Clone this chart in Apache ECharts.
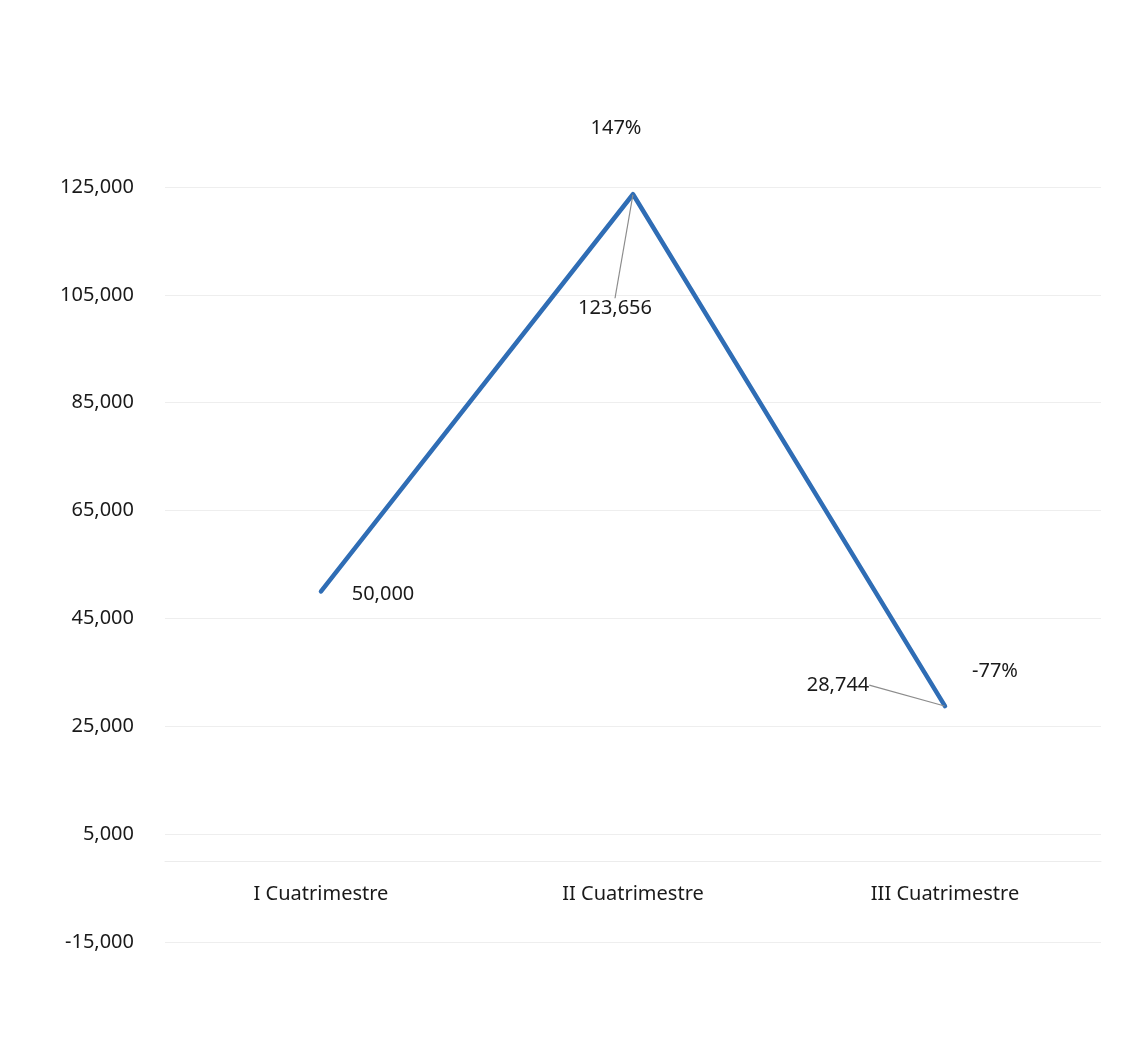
<!DOCTYPE html>
<html>
<head>
<meta charset="utf-8">
<script src="https://cdn.jsdelivr.net/npm/echarts@6/dist/echarts.min.js"></script>
<style>
html,body{margin:0;padding:0;background:#fff;}
#chart{width:1125px;height:1040px;}
</style>
</head>
<body>
<div id="chart"></div>
<script>
var categories = ['I Cuatrimestre', 'II Cuatrimestre', 'III Cuatrimestre'];
var values = [50000, 123656, 28744];
var percentLabels = ['', '147%', '-77%'];
var yMin = -15000, yMax = 125000, yStep = 20000;

var fontFam = '"Noto Sans", "Open Sans", sans-serif';
var textColor = '#1a1a1a';
var fs = 20;

// label offsets (layout only)
var valueOffsets = [[62, 3], [-18, 114], [-107, -21]];
var valueLines = [false, true, true];
var pctOffsets = [[0, 0], [-17, -66], [50, -35]];

var chart = echarts.init(document.getElementById('chart'), null, {renderer: 'canvas'});
chart.setOption({
  backgroundColor: '#ffffff',
  animation: false,
  grid: {left: 165, right: 24, top: 187, bottom: 98},
  xAxis: {
    type: 'category',
    data: categories,
    boundaryGap: true,
    axisLine: {show: true, lineStyle: {color: '#ececec', width: 1}},
    axisTick: {show: false},
    axisLabel: {color: textColor, fontSize: fs, fontFamily: fontFam, margin: -58}
  },
  yAxis: {
    type: 'value',
    min: yMin, max: yMax, interval: yStep,
    axisLine: {show: false},
    axisTick: {show: false},
    splitLine: {lineStyle: {color: '#eeeeee', width: 1}},
    axisLabel: {
      color: textColor, fontSize: fs, fontFamily: fontFam, margin: 31,
      formatter: function (v) { return v.toLocaleString('en-US'); }
    }
  },
  series: [
    {
      type: 'line',
      data: values.map(function (v, i) {
        return {
          value: v,
          labelLine: {show: valueLines[i]}
        };
      }),
      symbol: 'circle',
      symbolSize: 1,
      showSymbol: true,
      itemStyle: {color: 'rgba(0,0,0,0)', borderWidth: 0},
      lineStyle: {color: '#2f6db5', width: 4.5, cap: 'round', join: 'round'},
      label: {
        show: true,
        position: 'inside',
        color: textColor, fontSize: fs, fontFamily: fontFam,
        formatter: function (p) { return p.value.toLocaleString('en-US'); }
      },
      labelLine: {show: true, lineStyle: {color: '#8c8c8c', width: 1.2}},
      labelLayout: function (params) {
        var o = valueOffsets[params.dataIndex];
        return {dx: o[0], dy: o[1]};
      },
      z: 3
    },
    {
      type: 'line',
      data: values,
      symbol: 'circle',
      symbolSize: 1,
      showSymbol: true,
      itemStyle: {color: 'rgba(0,0,0,0)', borderWidth: 0},
      lineStyle: {color: 'rgba(0,0,0,0)', width: 0},
      silent: true,
      label: {
        show: true,
        position: 'inside',
        color: textColor, fontSize: fs, fontFamily: fontFam,
        formatter: function (p) { return percentLabels[p.dataIndex]; }
      },
      labelLayout: function (params) {
        var o = pctOffsets[params.dataIndex];
        return {dx: o[0], dy: o[1]};
      },
      z: 2
    }
  ]
});
</script>
</body>
</html>
